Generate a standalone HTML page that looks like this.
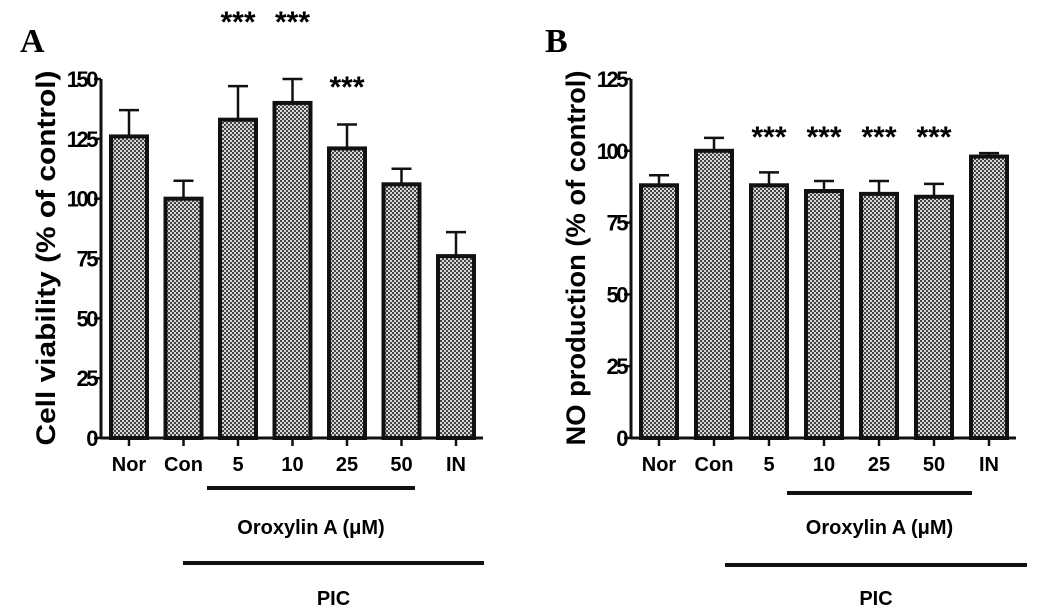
<!DOCTYPE html>
<html><head><meta charset="utf-8"><style>
body{margin:0;background:#fff;}
svg{display:block;font-family:"Liberation Sans",Arial,sans-serif;}
</style></head><body>
<svg id="chart" width="1049" height="609" viewBox="0 0 1049 609">
<defs>
<pattern id="dots" width="4" height="4" patternUnits="userSpaceOnUse">
<rect width="4" height="4" fill="#d8d8d8"/>
<rect x="0" y="0" width="2" height="2" fill="#444"/>
<rect x="2" y="2" width="2" height="2" fill="#444"/>
</pattern>
</defs>
<g id="gA"></g>
<g id="gB"></g>
</svg>
<script>
const categories=["Nor","Con","5","10","25","50","IN"];
const valuesA=[126,100,133,140,121,106,76];
const errorsA=[11,7.5,14,10,10,6.5,10];
const starsA=[false,false,true,true,true,false,false];
const ticksA=[0,25,50,75,100,125,150];
const valuesB=[88,100,88,86,85,84,98];
const errorsB=[3.5,4.5,4.5,3.5,4.5,4.5,1.2];
const starsB=[false,false,true,true,true,true,false];
const ticksB=[0,25,50,75,100,125];

const NS="http://www.w3.org/2000/svg";
function mk(p,t,a,txt){const e=document.createElementNS(NS,t);for(const k in a)e.setAttribute(k,a[k]);if(txt!==undefined)e.textContent=txt;p.appendChild(e);return e;}

function panel(g,cfg){
  const {axisX,y0,yTop,max,c0,step,vals,errs,stars,ticks,letter,title,starY,oro,pic}=cfg;
  const y=v=>y0-(v/max)*(y0-yTop);
  const x=i=>c0+i*step;
  let e;
  e=mk(g,"text",{x:cfg.lx,y:52,"font-family":"Liberation Serif,serif","font-weight":"bold","font-size":34},letter);
  
  e=mk(g,"text",{transform:`translate(${axisX-46},258) rotate(-90)`,"text-anchor":"middle","font-weight":"bold","font-size":27,"textLength":375,"lengthAdjust":"spacingAndGlyphs"},title);
  
  vals.forEach((v,i)=>{
    const cx=x(i),top=y(v),et=y(v+errs[i]);
    e=mk(g,"line",{x1:cx,x2:cx,y1:top,y2:et,stroke:"#111","stroke-width":2.5});
    
    e=mk(g,"line",{x1:cx-10,x2:cx+10,y1:et,y2:et,stroke:"#111","stroke-width":2.5});
    
    e=mk(g,"rect",{x:cx-18,y:top,width:36,height:y0-top,fill:"url(#dots)",stroke:"#111","stroke-width":4});
    
    if(stars[i]){e=mk(g,"text",{x:cx,y:starY(i,et),"text-anchor":"middle","font-weight":"bold","font-size":30},"***");
      }
    e=mk(g,"line",{x1:cx,x2:cx,y1:y0,y2:y0+8,stroke:"#111","stroke-width":2.5});
    
    e=mk(g,"text",{x:cx,y:y0+33,"text-anchor":"middle","font-weight":"bold","font-size":20},categories[i]);
    
  });
  e=mk(g,"line",{x1:axisX,x2:axisX,y1:yTop,y2:y0+1,stroke:"#111","stroke-width":3});
  
  e=mk(g,"line",{x1:axisX,x2:x(6)+27,y1:y0,y2:y0,stroke:"#111","stroke-width":3});
  
  ticks.forEach(t=>{
    e=mk(g,"line",{x1:axisX-7,x2:axisX,y1:y(t),y2:y(t),stroke:"#111","stroke-width":2.5});
    
    e=mk(g,"text",{x:axisX-5,y:y(t)+8,"text-anchor":"end","font-weight":"bold","font-size":22,"letter-spacing":-2.5},t);
    
  });
  e=mk(g,"line",{x1:oro[0],x2:oro[1],y1:oro[2],y2:oro[2],stroke:"#111","stroke-width":4});
  
  e=mk(g,"text",{x:(oro[0]+oro[1])/2,y:534,"text-anchor":"middle","font-weight":"bold","font-size":20},"Oroxylin A (μM)");
  
  e=mk(g,"line",{x1:pic[0],x2:pic[1],y1:pic[2],y2:pic[2],stroke:"#111","stroke-width":4});
  
  e=mk(g,"text",{x:(pic[0]+pic[1])/2,y:605,"text-anchor":"middle","font-weight":"bold","font-size":20},"PIC");
  
}
panel(document.getElementById("gA"),{axisX:101,y0:438,yTop:79,max:150,c0:129,step:54.5,vals:valuesA,errs:errorsA,stars:starsA,ticks:ticksA,letter:"A",lx:20,title:"Cell viability (% of control)",starY:(i,et)=>i<4?32:97,oro:[207,415,488],pic:[183,484,563]});
panel(document.getElementById("gB"),{axisX:631,y0:438,yTop:79,max:125,c0:659,step:55,vals:valuesB,errs:errorsB,stars:starsB,ticks:ticksB,letter:"B",lx:545,title:"NO production (% of control)",starY:()=>147,oro:[787,972,493],pic:[725,1027,565]});
</script>
</body></html>
